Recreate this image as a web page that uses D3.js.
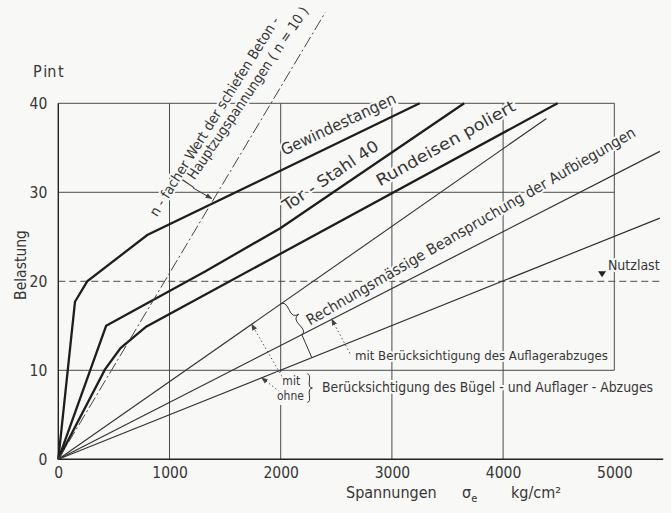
<!DOCTYPE html>
<html>
<head>
<meta charset="utf-8">
<script src="https://cdn.jsdelivr.net/npm/d3@7"></script>
<style>
  body { margin: 0; background: #f8f8f7; }
  svg { display: block; }
  text { font-family: "DejaVu Sans Condensed", "Liberation Sans Narrow", sans-serif; fill: #363636; }
  .halo { stroke: #f8f8f7; stroke-width: 4px; paint-order: stroke; stroke-linejoin: round; }
</style>
</head>
<body>
<svg width="671" height="513"></svg>
<script>
(function(){
  // axis ticks
  var xTicks = [0, 1000, 2000, 3000, 4000, 5000];
  var yTicks = [0, 10, 20, 30, 40];

  // curves (x = Spannung kg/cm2, y = Belastung t)
  var gewindestangen = [[0,0],[150,17.7],[260,20],[800,25.2],[3250,40]];
  var torStahl = [[0,0],[430,15],[1320,21.1],[2000,26],[3650,40]];
  var rundeisen = [[0,0],[420,10.1],[560,12.5],[790,14.9],[4490,40]];
  var betonZug = [[0,0],[2400,50.2]];          // n-facher Wert, dash-dot
  var aufbiegung = [[0,0],[4390,38.3]];        // rechnungsmaessig
  var mitAuflager = [[0,0],[5410,34.6]];       // mit Beruecksichtigung des Auflagerabzuges
  var ohneAbzug = [[0,0],[5410,27.1]];         // ohne Beruecksichtigung
  var nutzlast = 20;
  var xEnd = 5440;

  var svg = d3.select('svg');
  var x = d3.scaleLinear().domain([0, 5000]).range([58.3, 614.3]);
  var y = d3.scaleLinear().domain([0, 40]).range([459.3, 103.3]);

  function valueAt(pts, xv){
    for (var i = 1; i < pts.length; i++){
      if (xv <= pts[i][0]){
        var a = pts[i-1], b = pts[i];
        return a[1] + (b[1] - a[1]) * (xv - a[0]) / (b[0] - a[0]);
      }
    }
    return pts[pts.length-1][1];
  }

  var defs = svg.append('defs');
  defs.append('marker').attr('id', 'arr')
    .attr('viewBox', '0 0 8 8').attr('refX', 7).attr('refY', 4)
    .attr('markerWidth', 7).attr('markerHeight', 7).attr('markerUnits', 'userSpaceOnUse')
    .attr('orient', 'auto')
    .append('path').attr('d', 'M0,1 L8,4 L0,7 Z').attr('fill', '#444');

  // grid
  var grid = svg.append('g').attr('stroke', '#4a4a4a').attr('stroke-width', 1).attr('fill', 'none');
  xTicks.slice(1).forEach(function(t){
    var lo = t === 5000 ? 10 : 0;
    grid.append('line').attr('x1', x(t)).attr('x2', x(t)).attr('y1', y(lo)).attr('y2', y(40));
  });
  [10, 30, 40].forEach(function(t){
    grid.append('line').attr('x1', x(0)).attr('x2', x(5000)).attr('y1', y(t)).attr('y2', y(t));
  });
  grid.append('line').attr('x1', x(0)).attr('x2', x(xEnd)).attr('y1', y(nutzlast)).attr('y2', y(nutzlast))
    .attr('stroke-dasharray', '7,4');
  grid.append('line').attr('x1', x(0)).attr('x2', x(0)).attr('y1', y(0)).attr('y2', y(40))
    .attr('stroke', '#222').attr('stroke-width', 1.4);
  grid.append('line').attr('x1', x(0)).attr('x2', x(xEnd)).attr('y1', y(0)).attr('y2', y(0))
    .attr('stroke', '#222').attr('stroke-width', 1.6);

  // axes labels
  var xAxis = svg.append('g').attr('transform', 'translate(0,' + y(0) + ')')
    .call(d3.axisBottom(x).tickValues(xTicks).tickSize(0).tickPadding(8).tickFormat(d3.format('d')));
  var yAxis = svg.append('g').attr('transform', 'translate(' + x(0) + ',0)')
    .call(d3.axisLeft(y).tickValues(yTicks).tickSize(0).tickPadding(11).tickFormat(d3.format('d')));
  [xAxis, yAxis].forEach(function(a){
    a.select('.domain').remove();
    a.selectAll('text').attr('font-size', 15.5).attr('font-family', null).style('fill', '#363636');
  });

  svg.append('text').attr('x', 33).attr('y', 77).attr('font-size', 16)
    .attr('word-spacing', -3).text('P in t');
  svg.append('text').attr('transform', 'translate(26,265) rotate(-90)')
    .attr('text-anchor', 'middle').attr('font-size', 15.5).text('Belastung');
  var xt = svg.append('text').attr('y', 498).attr('font-size', 16);
  xt.append('tspan').attr('x', 346).text('Spannungen');
  xt.append('tspan').attr('x', 462).text('σ');
  xt.append('tspan').attr('font-size', 11).attr('dy', 4).text('e');
  xt.append('tspan').attr('x', 511).attr('dy', -4).text('kg/cm²');

  // curves
  var line = d3.line().x(function(d){ return x(d[0]); }).y(function(d){ return y(d[1]); });
  var curves = [
    {d: gewindestangen, w: 2.3, c: '#1e1e1e'},
    {d: torStahl, w: 2.3, c: '#1e1e1e'},
    {d: rundeisen, w: 2.3, c: '#1e1e1e'},
    {d: aufbiegung, w: 1.1, c: '#333'},
    {d: mitAuflager, w: 1.2, c: '#333'},
    {d: ohneAbzug, w: 1.2, c: '#333'},
    {d: betonZug, w: 1, c: '#444', dash: '12,3,2,3'}
  ];
  svg.append('g').attr('fill', 'none').selectAll('path').data(curves).enter().append('path')
    .attr('d', function(c){ return line(c.d); })
    .attr('stroke', function(c){ return c.c; })
    .attr('stroke-width', function(c){ return c.w; })
    .attr('stroke-dasharray', function(c){ return c.dash || null; });

  // rotated labels along curves
  var labels = [
    {t: 'Gewindestangen', at: [2032, 34.1], a: -25.2, len: 125, fs: 16},
    {t: 'Tor - Stahl 40', at: [2057, 27.85], a: -34, len: 112, fs: 16},
    {t: 'Rundeisen  poliert', at: [2893, 30.66], a: -29.3, len: 157, fs: 16},
    {t: 'n - facher Wert der schiefen  Beton -', at: [888, 27.18], a: -58, len: 232, fs: 14},
    {t: '| Hauptzugspannungen  ( n = 10 )', at: [1184, 30.55], a: -56, len: 213, fs: 14},
    {t: 'Rechnungsmässige Beanspruchung der Aufbiegungen', at: [2264, 15.01], a: -30.2, len: 378, fs: 15}
  ];
  svg.append('g').selectAll('text').data(labels).enter().append('text')
    .attr('class', 'halo')
    .attr('transform', function(l){ return 'translate(' + x(l.at[0]) + ',' + y(l.at[1]) + ') rotate(' + l.a + ')'; })
    .attr('font-size', function(l){ return l.fs; })
    .attr('textLength', function(l){ return l.len; })
    .attr('lengthAdjust', 'spacingAndGlyphs')
    .text(function(l){ return l.t; });

  // arrow to intersection of n-fach line
  svg.append('line').attr('x1', x(1210)).attr('y1', y(30.5)).attr('x2', x(1380)).attr('y2', y(29.3))
    .attr('stroke', '#333').attr('stroke-width', 1).attr('marker-end', 'url(#arr)');

  // braces
  function brace(x1, y1, x2, y2, w, q){
    var dx = x1 - x2, dy = y1 - y2, len = Math.sqrt(dx*dx + dy*dy);
    dx /= len; dy /= len;
    var qx1 = x1 + q*w*dy, qy1 = y1 - q*w*dx;
    var qx2 = (x1 - .25*len*dx) + (1-q)*w*dy, qy2 = (y1 - .25*len*dy) - (1-q)*w*dx;
    var tx = (x1 - .5*len*dx) + w*dy, ty = (y1 - .5*len*dy) - w*dx;
    var qx3 = x2 + q*w*dy, qy3 = y2 - q*w*dx;
    var qx4 = (x1 - .75*len*dx) + (1-q)*w*dy, qy4 = (y1 - .75*len*dy) - (1-q)*w*dx;
    return 'M' + x1 + ',' + y1 + 'Q' + qx1 + ',' + qy1 + ' ' + qx2 + ',' + qy2 + 'T' + tx + ',' + ty +
           'M' + x2 + ',' + y2 + 'Q' + qx3 + ',' + qy3 + ' ' + qx4 + ',' + qy4 + 'T' + tx + ',' + ty;
  }
  var ann = svg.append('g').attr('fill', 'none').attr('stroke', '#333').attr('stroke-width', 1);
  var bx1 = 2000, bx2 = 2190, bx3 = 2280;
  ann.append('path').attr('d', brace(x(bx2), y(valueAt(mitAuflager, bx2)), x(bx1), y(valueAt(aufbiegung, bx1)), 9, 0.6));
  ann.append('line').attr('x1', x(bx2)).attr('y1', y(valueAt(mitAuflager, bx2)))
    .attr('x2', x(bx3)).attr('y2', y(valueAt(ohneAbzug, bx3)));

  // background gap behind mit / ohne
  svg.append('rect').attr('x', x(1960)).attr('y', y(9.8)).attr('width', x(2130) - x(1960))
    .attr('height', y(6.1) - y(9.8)).attr('fill', '#f8f8f7');
  ann = svg.append('g').attr('fill', 'none').attr('stroke', '#333').attr('stroke-width', 1);
  ann.append('path').attr('d', brace(x(2240), y(6.4), x(2240), y(9.6), 5, 0.6));

  // dotted arrows
  var arrows = [
    {from: [2012, 9.3], to: [1739, valueAt(aufbiegung, 1739)]},
    {from: [1990, 7.6], to: [1829, valueAt(ohneAbzug, 1829)]},
    {from: [2623, 11.9], to: [2459, valueAt(mitAuflager, 2459)]}
  ];
  svg.append('g').selectAll('line').data(arrows).enter().append('line')
    .attr('x1', function(a){ return x(a.from[0]); }).attr('y1', function(a){ return y(a.from[1]); })
    .attr('x2', function(a){ return x(a.to[0]); }).attr('y2', function(a){ return y(a.to[1]); })
    .attr('stroke', '#555').attr('stroke-width', 1).attr('stroke-dasharray', '1.5,2.5')
    .attr('marker-end', 'url(#arr)');

  // flat annotation text
  var notes = [
    {t: 'mit', at: [2015, 8.37], fs: 12},
    {t: 'ohne', at: [1967, 6.68], fs: 12},
    {t: 'Berücksichtigung des Bügel - und Auflager - Abzuges', at: [2372, 7.58], fs: 14, len: 331},
    {t: 'mit Berücksichtigung des Auflagerabzuges', at: [2668, 11.18], fs: 13, len: 253},
    {t: 'Nutzlast', at: [4943, 21.3], fs: 14}
  ];
  svg.append('g').selectAll('text').data(notes).enter().append('text')
    .attr('class', 'halo')
    .attr('x', function(n){ return x(n.at[0]); }).attr('y', function(n){ return y(n.at[1]); })
    .attr('font-size', function(n){ return n.fs; })
    .attr('textLength', function(n){ return n.len || null; })
    .attr('lengthAdjust', 'spacingAndGlyphs')
    .text(function(n){ return n.t; });

  // Nutzlast marker
  var mx = x(4890), my = y(nutzlast) - 4;
  svg.append('path').attr('d', 'M' + (mx-4) + ',' + (my-6) + 'L' + (mx+4) + ',' + (my-6) + 'L' + mx + ',' + my + 'Z')
    .attr('fill', '#222');
})();
</script>
</body>
</html>
